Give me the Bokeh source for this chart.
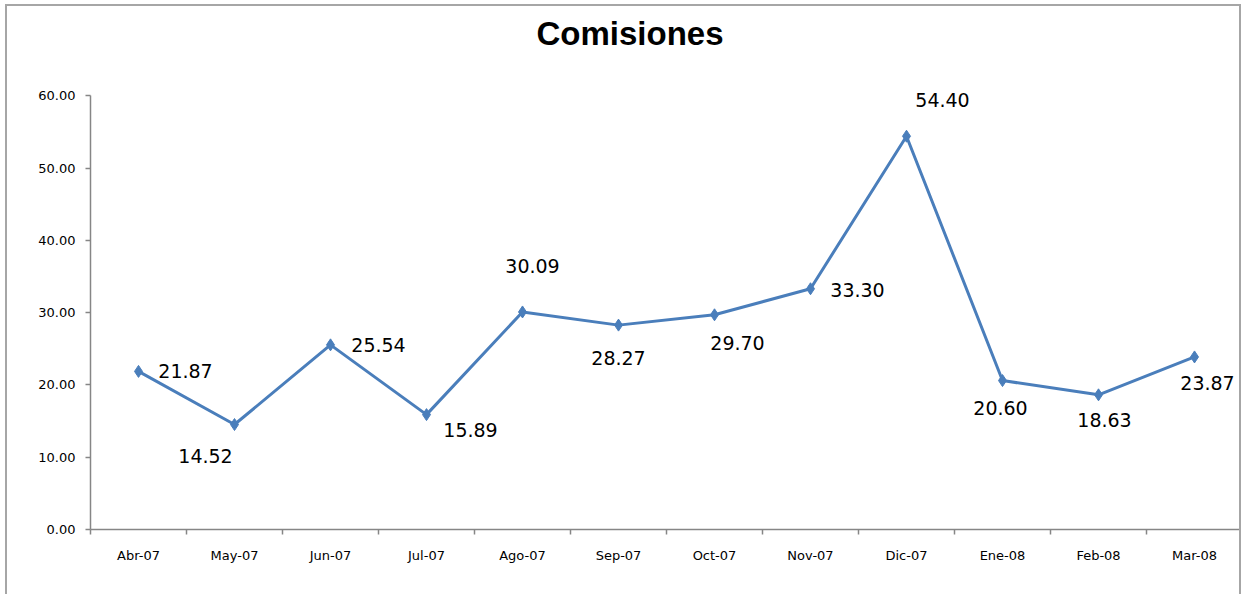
import numpy as np
from bokeh.plotting import figure
from bokeh.models import Range1d, FixedTicker, NumeralTickFormatter, ColumnDataSource, LabelSet, Title
from bokeh.core.properties import value
from bokeh.embed import file_html
from bokeh.resources import INLINE

months = ["Abr-07", "May-07", "Jun-07", "Jul-07", "Ago-07", "Sep-07",
          "Oct-07", "Nov-07", "Dic-07", "Ene-08", "Feb-08", "Mar-08"]
comisiones = [21.87, 14.52, 25.54, 15.89, 30.09, 28.27,
              29.70, 33.30, 54.40, 20.60, 18.63, 23.87]
y_ticks = [0, 10, 20, 30, 40, 50, 60]

# label placement (pixel offsets from each point), Excel-like
label_dx = [47, -29, 48, 44, 10, 0, 23, 47, 36, -2, 6, 13]
label_dy = [0, -31, 0, -15, 46, -33, -28, -1, 36, -27, -25, -26]

n = len(months)
xpos = np.arange(n) + 0.5
centers = list(xpos)
bounds = list(np.arange(n + 1))

src = ColumnDataSource(dict(x=xpos, y=comisiones,
                            lbl=[f"{v:.2f}" for v in comisiones],
                            dx=label_dx, dy=label_dy))

COLOR = "#4A7EBB"

p = figure(width=1236, height=590, output_backend="svg", toolbar_location=None,
           x_range=Range1d(0, n), y_range=Range1d(0, 61),
           min_border_left=83, min_border_right=1, min_border_top=82, min_border_bottom=67)

p.title.text = "Comisiones"
p.title.text_font = "Liberation Sans"
p.title.text_font_style = "bold"
p.title.text_font_size = "33px"
p.title.align = "left"
p.title.offset = 446
p.title.standoff = 0
p.title.text_color = "black"

spacer = Title(text=" ", text_font_size="31px", standoff=0)
p.add_layout(spacer, "above")

p.outline_line_color = None
p.xgrid.grid_line_color = None
p.ygrid.grid_line_color = None
p.background_fill_color = "white"
p.border_fill_color = "white"

p.line("x", "y", source=src, line_color=COLOR, line_width=3)
p.scatter("x", "y", source=src, marker="diamond", size=12, fill_color=COLOR, line_color=COLOR)
labels = LabelSet(x="x", y="y", text="lbl", source=src, x_offset="dx", y_offset="dy",
                  text_align="center", text_baseline="middle", text_font=value("DejaVu Sans"),
                  text_font_size="19px", text_color="black")
p.add_layout(labels)

AX = "#868686"
xa = p.xaxis[0]
xa.ticker = FixedTicker(ticks=centers, minor_ticks=bounds)
xa.major_label_overrides = {float(c): m for c, m in zip(centers, months)}
xa.major_tick_line_color = None
xa.minor_tick_line_color = AX
xa.minor_tick_out = 5
xa.minor_tick_in = 0
xa.minor_tick_line_width = 1.5
xa.axis_line_color = AX
xa.axis_line_width = 1.5
xa.major_label_text_font = "DejaVu Sans"
xa.major_label_text_font_size = "13px"
xa.major_label_text_color = "black"
xa.major_label_standoff = 12

ya = p.yaxis[0]
ya.ticker = FixedTicker(ticks=y_ticks, minor_ticks=[])
ya.formatter = NumeralTickFormatter(format="0.00")
ya.bounds = (0, 60)
ya.major_tick_line_color = AX
ya.major_tick_out = 5
ya.major_tick_in = 0
ya.major_tick_line_width = 1.5
ya.minor_tick_line_color = None
ya.axis_line_color = AX
ya.axis_line_width = 1.5
ya.major_label_text_font = "DejaVu Sans"
ya.major_label_text_font_size = "13px"
ya.major_label_text_color = "black"
ya.major_label_standoff = 10

p.styles = {"margin-left": "5px", "margin-top": "4px",
            "border-left": "2px solid #A6A6A6", "border-top": "2px solid #A6A6A6",
            "border-right": "2px solid #A6A6A6"}

open("out.html", "w").write(file_html(p, INLINE))
